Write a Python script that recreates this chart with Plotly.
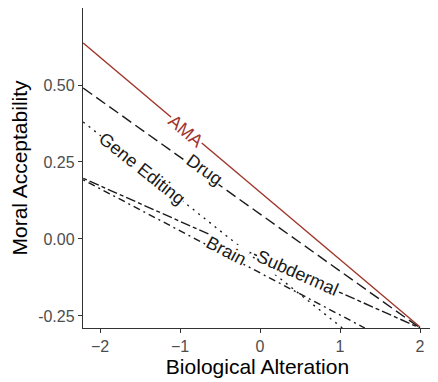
import math
import plotly.graph_objects as go

# Series: straight fitted lines, given by endpoints
series = ["AMA", "Drug", "Gene Editing", "Brain", "Subdermal"]
x_start = [-2.21, -2.21, -2.21, -2.21, -2.21]
y_start = [0.636, 0.490, 0.380, 0.192, 0.197]
x_end = [2.00, 2.00, 1.03, 1.31, 2.00]
y_end = [-0.286, -0.289, -0.289, -0.289, -0.289]

# Label positions (data coordinates)
label_x = [-0.93, -0.69, -1.47, -0.42, 0.47]
label_y = [0.350, 0.225, 0.228, -0.040, -0.110]

x_ticks = [-2, -1, 0, 1, 2]
y_ticks = [-0.25, 0.00, 0.25, 0.50]
y_ticktext = ["-0.25", "0.00", "0.25", "0.50"]

colors = ["#a0362c", "#1a1a1a", "#1a1a1a", "#1a1a1a", "#1a1a1a"]
dashes = ["solid", "11px,5px", "2px,5px", "2px,4px,7px,4px", "4px,3px,10px,3px"]

FONT = "Liberation Sans, Arial, sans-serif"
# page body has an 8px margin, so the figure is sized to fit the window
W, H = 430, 374
ml, mr, mt, mb = 75, 6, 0, 54
xr = [-2.2125, 2.15]
yr = [-0.289, 0.75]
pxx = (W - ml - mr) / (xr[1] - xr[0])
pxy = (H - mt - mb) / (yr[1] - yr[0])

fig = go.Figure()
for i, name in enumerate(series):
    fig.add_trace(go.Scatter(
        x=[x_start[i], x_end[i]], y=[y_start[i], y_end[i]],
        mode="lines", name=name, showlegend=False,
        line=dict(color=colors[i], width=1.4, dash=dashes[i]),
        cliponaxis=True,
    ))

for i, name in enumerate(series):
    slope_px = (y_start[i] - y_end[i]) * pxy / ((x_end[i] - x_start[i]) * pxx)
    ang = math.degrees(math.atan(slope_px))
    fig.add_annotation(
        x=label_x[i], y=label_y[i], text=name, showarrow=False,
        textangle=ang, bgcolor="white", borderpad=0,
        font=dict(family=FONT, size=18, color=colors[i]),
    )

axis_common = dict(
    showline=True, linecolor="#333333", linewidth=1.4,
    ticks="outside", ticklen=4, tickwidth=1.2, tickcolor="#333333",
    showgrid=False, zeroline=False, automargin=False,
    tickfont=dict(family=FONT, size=16, color="#4d4d4d"),
)

fig.update_layout(
    width=W, height=H,
    margin=dict(l=ml, r=mr, t=mt, b=mb),
    plot_bgcolor="white", paper_bgcolor="white",
    xaxis=dict(range=xr, tickvals=x_ticks,
               title=dict(text="Biological Alteration", standoff=4,
                          font=dict(family=FONT, size=21, color="black")),
               **axis_common),
    yaxis=dict(range=yr, tickvals=y_ticks, ticktext=y_ticktext,
               title=dict(text="Moral Acceptability", standoff=8,
                          font=dict(family=FONT, size=21, color="black")),
               **axis_common),
)

fig.write_html("out.html")
